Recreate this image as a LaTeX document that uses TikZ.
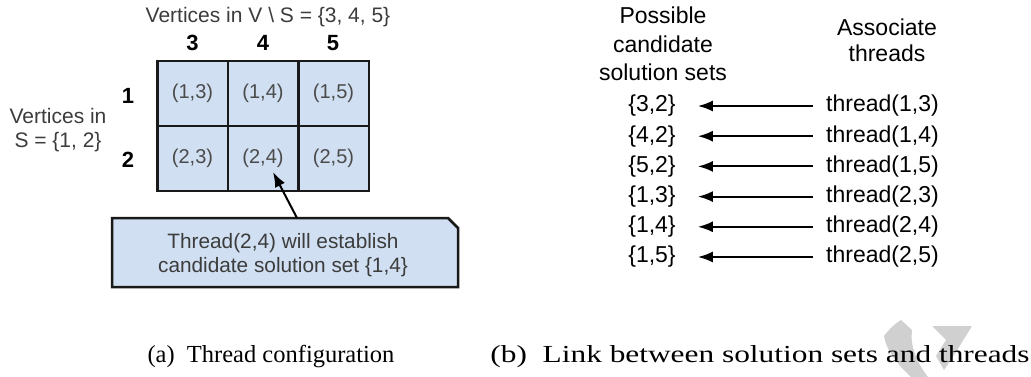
\documentclass[tikz,border=0pt]{standalone}
\usepackage{graphicx}
\usepackage{fontspec}
\setmainfont{Liberation Serif}
\newfontfamily\arial{Liberation Sans}
\usetikzlibrary{arrows.meta}
\definecolor{cellblue}{RGB}{208,223,241}
\definecolor{gridline}{RGB}{25,25,25}
\definecolor{celltext}{RGB}{75,75,75}
\definecolor{labeltext}{RGB}{60,60,60}
\definecolor{wmark}{RGB}{208,208,208}
\begin{document}
\begin{tikzpicture}[x=1pt,y=-1pt,
  cell/.style={draw=gridline, line width=2.5pt, fill=cellblue, minimum width=70.5pt, minimum height=65pt, inner sep=0pt, font=\arial\fontsize{20}{24}\selectfont, text=celltext},
  lbl/.style={inner sep=0pt, font=\arial\fontsize{21}{25}\selectfont, text=labeltext},
  num/.style={inner sep=0pt, font=\arial\bfseries\fontsize{22}{26}\selectfont, text=black},
  rtext/.style={inner sep=0pt, font=\arial\fontsize{23}{28}\selectfont, text=black},
  arr/.style={line width=2pt, -{Latex[length=15pt,width=11pt]}},
  callbox/.style={draw=gridline, line width=2.5pt, fill=cellblue},
  capt/.style={inner sep=0pt, font=\fontsize{24.5}{28}\selectfont}]
\useasboundingbox (0,0) rectangle (1031,377);
% ---- (a) grid
\node[lbl] (top) at (268,17) {Vertices in V \textbackslash\ S = \{3, 4, 5\}};
\node[num] (col3) at (192.5,43) {3};
\node[num] (col4) at (263,43) {4};
\node[num] (col5) at (333,43) {5};
\node[num] (row1) at (128,96) {1};
\node[num] (row2) at (128,160) {2};
\node[lbl, align=center, font=\arial\fontsize{21}{24}\selectfont] (left) at (58,130) {Vertices in\\S = \{1, 2\}};
\node[cell] (c13) at (192.5,93.5) {(1,3)};
\node[cell] (c14) at (263,93.5) {(1,4)};
\node[cell] (c15) at (333.5,93.5) {(1,5)};
\node[cell] (c23) at (192.5,158.5) {(2,3)};
\node[cell] (c24) at (263,158.5) {(2,4)};
\node[cell] (c25) at (333.5,158.5) {(2,5)};
% callout
\draw[callbox] (112,218) -- (448,218) -- (458,228) -- (458,287) -- (112,287) -- cycle;
\node[lbl, align=center, font=\arial\fontsize{20.8}{24}\selectfont] (call) at (283,255) {Thread(2,4) will establish\\candidate solution set \{1,4\}};
\coordinate (ctail) at (297,218);
\coordinate (ctip) at ([xshift=10pt,yshift=-13.5pt]c24.center);
\draw[arr] (ctail) -- (ctip);
% ---- (b) links
\node[rtext, align=center, font=\arial\fontsize{23}{28.5}\selectfont] (hsets) at (663,44) {Possible\\candidate\\solution sets};
\node[rtext, align=center, font=\arial\fontsize{23}{26}\selectfont] (hthr) at (887,40) {Associate\\threads};
\foreach \a/\b/\c/\d [count=\i from 0] in {3/2/1/3, 4/2/1/4, 5/2/1/5, 1/3/2/3, 1/4/2/4, 1/5/2/5}{
  \node[rtext] (s\i) at (652,{106+30.2*\i}) {\{\a,\b\}};
  \node[rtext, anchor=west] (t\i) at (826,{106+30.2*\i}) {thread(\c,\d)};
  \draw[arr] ([xshift=-13pt]t\i.west) -- ([xshift=22pt]s\i.east);
}
% ---- watermark (approximate)
\fill[wmark] (884,336) .. controls (890,328) and (896,323) .. (901,320) -- (912,330) .. controls (910,345) and (916,362) .. (928,377) -- (911,377) .. controls (898,365) and (886,350) .. (884,336) -- cycle;
\fill[wmark] (932,326) -- (972,326) -- (956,352) -- (944,370) -- (936,356) -- (946,340) -- cycle;
% ---- captions
\node[capt] (capa) at (271,357) {(a)\enspace Thread configuration};
\node[capt] (capb) at (760,357) {\scalebox{1.28}[1]{(b)\enspace Link between solution sets and threads}};
\end{tikzpicture}
\end{document}
